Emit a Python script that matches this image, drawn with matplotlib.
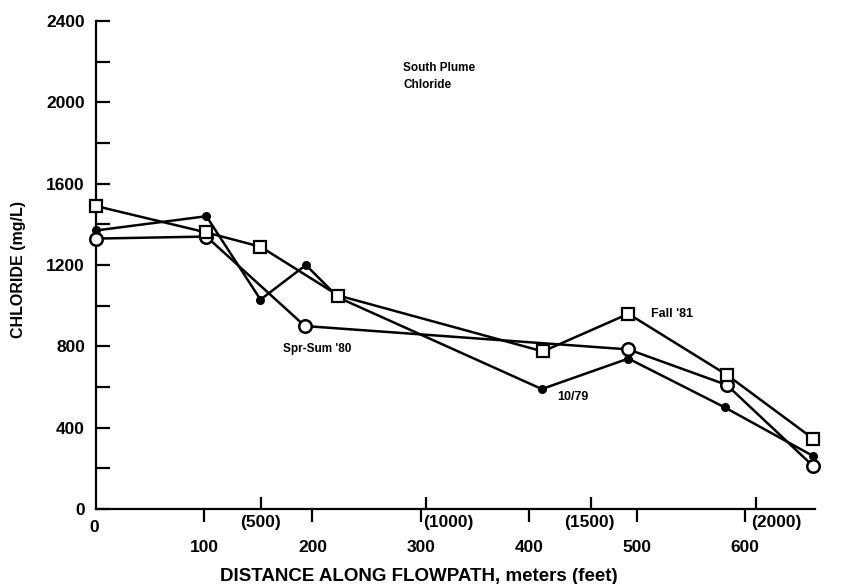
import matplotlib
matplotlib.use("Agg")
import matplotlib.pyplot as plt
import numpy as np

plt.rcParams["font.family"] = ["Liberation Sans", "DejaVu Sans"]
plt.rcParams["font.weight"] = "bold"

# chloride along the south plume flowpath, three sampling rounds
fall_x = [0, 102, 152, 224, 413, 492, 583, 663]
fall_y = [1490, 1360, 1290, 1050, 775, 960, 660, 345]

oct_x = [0, 102, 152, 194, 224, 412, 492, 581, 663]
oct_y = [1370, 1440, 1030, 1200, 1040, 590, 740, 500, 260]

spr_x = [0, 102, 193, 492, 583, 663]
spr_y = [1330, 1340, 900, 785, 610, 210]

meter_ticks = [100, 200, 300, 400, 500, 600]
feet_ticks = [500, 1000, 1500, 2000]
feet_shift = [0, 16, -1, 15]  # label nudges in points
y_ticks = [0, 400, 800, 1200, 1600, 2000, 2400]

fig = plt.figure(figsize=(8.43, 5.84), dpi=100)
ax = fig.add_axes([0.1139, 0.1284, 0.8529, 0.8356])

lw = 1.8
ax.plot(oct_x, oct_y, color="black", lw=lw, marker="o", ms=5.5,
        mfc="black", mec="black", clip_on=False, zorder=3)
ax.plot(spr_x, spr_y, color="black", lw=lw, marker="o", ms=9,
        mfc="white", mec="black", mew=1.8, clip_on=False, zorder=4)
ax.plot(fall_x, fall_y, color="black", lw=lw, marker="s", ms=8.5,
        mfc="white", mec="black", mew=1.6, clip_on=False, zorder=5)

ax.set_xlim(0, 664.5)
ax.set_ylim(0, 2400)

for side in ["top", "right"]:
    ax.spines[side].set_visible(False)
for side in ["left", "bottom"]:
    ax.spines[side].set_linewidth(1.6)

# y axis: ticks pointing into the plot every 200
ax.set_yticks(y_ticks)
ax.set_yticks(np.arange(200, 2400, 400), minor=True)
ax.tick_params(axis="y", which="both", direction="in", length=10, width=1.6, pad=8,
               labelsize=12.5)

# x axis: meters below (ticks out), feet above (ticks in)
ax.set_xticks(meter_ticks)
ax.set_xticklabels([str(m) for m in meter_ticks])
ax.tick_params(axis="x", which="major", direction="out", length=9, width=1.6, pad=13,
               labelsize=12.5)
ax.set_xticks([f * 0.3048 for f in feet_ticks], minor=True)
ax.tick_params(axis="x", which="minor", direction="in", length=9, width=1.6)

for f, dx in zip(feet_ticks, feet_shift):
    ax.annotate(f"({f})", xy=(f * 0.3048, 0), xycoords=("data", "axes fraction"),
                xytext=(dx, -10), textcoords="offset points",
                ha="center", va="center", fontsize=12.5)
ax.annotate("0", xy=(0, 0), xycoords=("data", "axes fraction"),
            xytext=(-1, -13), textcoords="offset points",
            ha="center", va="center", fontsize=12.5)

ax.text(284, 2169, "South Plume", fontsize=8.5, ha="left", va="center")
ax.text(284, 2085, "Chloride", fontsize=8.5, ha="left", va="center")
ax.text(513, 959, "Fall '81", fontsize=9, ha="left", va="center")
ax.text(426, 551, "10/79", fontsize=9, ha="left", va="center")
ax.text(173, 787, "Spr-Sum '80", fontsize=8.5, ha="left", va="center")

fig.text(0.0214, 0.538, "CHLORIDE (mg/L)", rotation=90, ha="center", va="center",
         fontsize=11.5)
fig.text(0.497, 0.012, "DISTANCE ALONG FLOWPATH, meters (feet)", ha="center",
         va="center", fontsize=13.5)

fig.savefig("out.png", dpi=100)
